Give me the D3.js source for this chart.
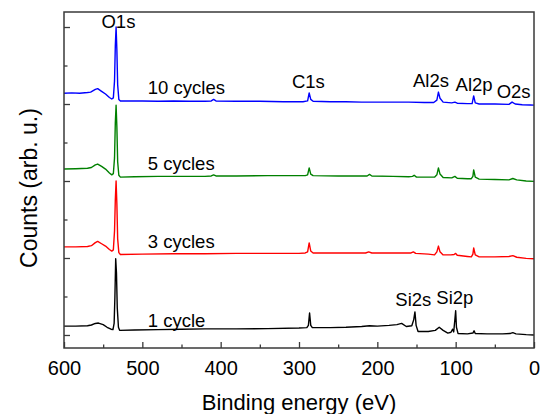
<!DOCTYPE html>
<html>
<head>
<meta charset="utf-8">
<script src="https://cdn.jsdelivr.net/npm/d3@7"></script>
<style>
  body { margin: 0; background: #fff; }
  svg { display: block; font-family: "Liberation Sans", Arial, sans-serif; }
</style>
</head>
<body>
<svg id="chart" width="541" height="414"></svg>
<script>
// XPS survey spectra, [binding energy (eV), counts (arb. u., offset)]
const cycles1 = [
  [600, 0.23], [585, 0.23], [570, 0.24], [565, 0.26], [560, 0.30], [556, 0.31], [550, 0.27], [545, 0.20],
  [540, 0.15], [537.5, 0.14], [536, 0.30], [535, 1.00], [534, 1.98], [533, 1.60], [532, 0.70], [530.5, 0.20],
  [529, 0.12], [510, 0.13], [480, 0.14], [450, 0.15], [420, 0.16], [380, 0.16], [340, 0.165], [300, 0.18],
  [290, 0.19], [288, 0.25], [286.5, 0.57], [285, 0.25], [283, 0.19], [260, 0.19], [240, 0.20], [220, 0.22],
  [210, 0.24], [200, 0.23], [185, 0.25], [175, 0.27], [169, 0.30], [163, 0.22], [156, 0.24], [153.5, 0.40],
  [152, 0.60], [150.5, 0.25], [148, 0.09], [135, 0.09], [126, 0.12], [121, 0.20], [116, 0.12], [110, 0.05],
  [106, 0.07], [104, 0.15], [102.5, 0.08], [101, 0.40], [100, 0.63], [99, 0.20], [97, 0.04], [85, 0.03],
  [78, 0.05], [76.5, 0.11], [75, 0.04], [60, 0.03], [40, 0.03], [30, 0.04], [27, 0.06], [23, 0.03],
  [10, 0.01], [0, 0.00]
];
const cycles3 = [
  [600, 2.29], [585, 2.29], [570, 2.30], [565, 2.32], [560, 2.40], [557, 2.43], [552, 2.37], [547, 2.31],
  [542, 2.22], [539, 2.18], [537, 2.21], [535.5, 2.70], [534.5, 3.50], [533.5, 4.00], [532.5, 3.40], [531.5, 2.50],
  [530, 2.14], [528, 2.09], [500, 2.10], [460, 2.11], [420, 2.11], [380, 2.12], [340, 2.12], [300, 2.12],
  [292, 2.13], [289, 2.16], [287, 2.39], [285, 2.18], [282, 2.13], [250, 2.13], [215, 2.13], [211, 2.16],
  [207, 2.13], [180, 2.13], [157, 2.13], [154, 2.16], [151, 2.12], [135, 2.10], [127, 2.08], [124, 2.16],
  [122, 2.31], [120, 2.16], [116, 2.08], [106, 2.08], [102, 2.09], [100, 2.12], [98, 2.07], [85, 2.04],
  [80, 2.03], [78, 2.10], [77, 2.26], [75, 2.08], [70, 2.03], [50, 2.03], [32, 2.04], [27, 2.06],
  [22, 2.02], [10, 1.99], [0, 1.98]
];
const cycles5 = [
  [600, 4.31], [585, 4.32], [570, 4.33], [565, 4.35], [560, 4.42], [557, 4.44], [552, 4.38], [547, 4.31],
  [542, 4.21], [539, 4.16], [537, 4.19], [535.5, 4.60], [534.5, 5.50], [533.5, 5.97], [532.5, 5.40], [531.5, 4.50],
  [530, 4.15], [528, 4.10], [510, 4.11], [480, 4.12], [450, 4.12], [420, 4.12], [412, 4.13], [409, 4.16],
  [406, 4.13], [380, 4.13], [340, 4.14], [310, 4.14], [292, 4.14], [289, 4.16], [287, 4.34], [285, 4.18],
  [282, 4.14], [250, 4.13], [220, 4.13], [213, 4.13], [210, 4.17], [207, 4.13], [180, 4.12], [160, 4.11],
  [155, 4.12], [153, 4.15], [150, 4.10], [135, 4.10], [127, 4.10], [124, 4.16], [122, 4.34], [120, 4.18],
  [116, 4.09], [105, 4.08], [101, 4.12], [98, 4.07], [85, 4.06], [80, 4.06], [78, 4.12], [77, 4.29],
  [75, 4.10], [70, 4.05], [50, 4.04], [32, 4.03], [27, 4.065], [22, 4.03], [10, 4.00], [0, 3.99]
];
const cycles10 = [
  [600, 6.28], [590, 6.29], [580, 6.28], [570, 6.30], [566, 6.31], [560, 6.38], [557, 6.40], [552, 6.33],
  [547, 6.26], [542, 6.17], [539, 6.13], [537, 6.16], [535.5, 6.60], [534.5, 7.50], [533.5, 8.00], [532.5, 7.40],
  [531.5, 6.50], [530, 6.12], [528, 6.08], [500, 6.08], [480, 6.07], [460, 6.08], [440, 6.07], [420, 6.07],
  [412, 6.08], [409, 6.12], [406, 6.08], [380, 6.07], [350, 6.07], [320, 6.06], [295, 6.06], [289, 6.08],
  [287, 6.29], [285, 6.12], [282, 6.07], [260, 6.06], [240, 6.06], [220, 6.05], [200, 6.05], [180, 6.05],
  [160, 6.05], [140, 6.04], [128, 6.04], [124, 6.10], [122, 6.31], [120, 6.15], [116, 6.05], [105, 6.03],
  [101, 6.05], [98, 6.02], [85, 6.01], [79, 6.01], [77, 6.21], [75, 6.03], [70, 6.00], [50, 6.00],
  [32, 5.99], [28, 6.05], [24, 6.00], [15, 5.98], [5, 5.975], [0, 5.97]
];

const seriesNames = ['1 cycle', '3 cycles', '5 cycles', '10 cycles'];
const seriesColors = ['#000000', '#ff0000', '#008000', '#0000ff'];
const seriesData = [cycles1, cycles3, cycles5, cycles10];

// peak assignments: name, binding energy (eV)
const peakNames = ['O1s', 'C1s', 'Al2s', 'Al2p', 'O2s', 'Si2s', 'Si2p'];
const peakEnergies = [530.5, 288, 131.5, 76.5, 26, 154, 101];

const xTicks = [600, 500, 400, 300, 200, 100, 0];
const xMinorTicks = [550, 450, 350, 250, 150, 50];
const yTicks = [0, 2, 4, 6, 8];
const yMinorTicks = [1, 3, 5, 7];

const margin = { left: 64, right: 7, top: 12, bottom: 66 };
const width = 541 - margin.left - margin.right;
const height = 414 - margin.top - margin.bottom;
const frameColor = '#3a3a3a';

const svg = d3.select('#chart');
const g = svg.append('g')
  .attr('transform', `translate(${margin.left},${margin.top})`);

const x = d3.scaleLinear().domain([600, 0]).range([0, width]);
const y = d3.scaleLinear().domain([-0.338, 8.39]).range([height, 0]);

// spectra
const line = d3.line()
  .x(d => x(d[0]))
  .y(d => y(d[1]));

g.selectAll('.spectrum')
  .data(seriesData)
  .join('path')
  .attr('class', 'spectrum')
  .attr('d', line)
  .attr('fill', 'none')
  .attr('stroke', (d, i) => seriesColors[i])
  .attr('stroke-width', 1.4)
  .attr('stroke-linejoin', 'round');

// axes with inward ticks
const xAxis = g.append('g')
  .attr('transform', `translate(0,${height})`)
  .call(d3.axisBottom(x).tickValues(xTicks).tickSizeInner(-6).tickSizeOuter(0).tickPadding(13));
g.append('g')
  .attr('transform', `translate(0,${height})`)
  .call(d3.axisBottom(x).tickValues(xMinorTicks).tickSizeInner(-3.5).tickSizeOuter(0).tickFormat(''));
g.append('g')
  .call(d3.axisLeft(y).tickValues(yTicks).tickSizeInner(-6).tickSizeOuter(0).tickFormat(''));
g.append('g')
  .call(d3.axisLeft(y).tickValues(yMinorTicks).tickSizeInner(-3.5).tickSizeOuter(0).tickFormat(''));

g.selectAll('.domain').remove();
g.selectAll('.tick line').attr('stroke', frameColor).attr('stroke-width', 1.3);
xAxis.selectAll('text')
  .attr('font-size', 20)
  .attr('fill', '#000')
  .attr('font-family', '"Liberation Sans", Arial, sans-serif');

g.append('rect')
  .attr('width', width)
  .attr('height', height)
  .attr('fill', 'none')
  .attr('stroke', frameColor)
  .attr('stroke-width', 1.5);

// series labels
const labelX = 493;
g.selectAll('.series-label')
  .data(seriesData)
  .join('text')
  .attr('class', 'series-label')
  .attr('x', x(labelX))
  .attr('y', d => y(d[0][1]) + 1)
  .attr('font-size', 18.5)
  .text((d, i) => seriesNames[i]);

// peak labels
const peakLabelY = [28, 88.3, 87.3, 90.5, 98.3, 306.3, 303.7];
g.selectAll('.peak-label')
  .data(peakNames)
  .join('text')
  .attr('class', 'peak-label')
  .attr('x', (d, i) => x(peakEnergies[i]))
  .attr('y', (d, i) => peakLabelY[i] - margin.top)
  .attr('text-anchor', 'middle')
  .attr('font-size', 18.5)
  .text(d => d);

// axis titles
svg.append('text')
  .attr('x', margin.left + width / 2)
  .attr('y', 410)
  .attr('text-anchor', 'middle')
  .attr('font-size', 22)
  .text('Binding energy (eV)');

svg.append('text')
  .attr('transform', `translate(37,${margin.top + height / 2 + 8}) rotate(-90)`)
  .attr('text-anchor', 'middle')
  .attr('font-size', 23)
  .text('Counts (arb. u.)');
</script>
</body>
</html>
